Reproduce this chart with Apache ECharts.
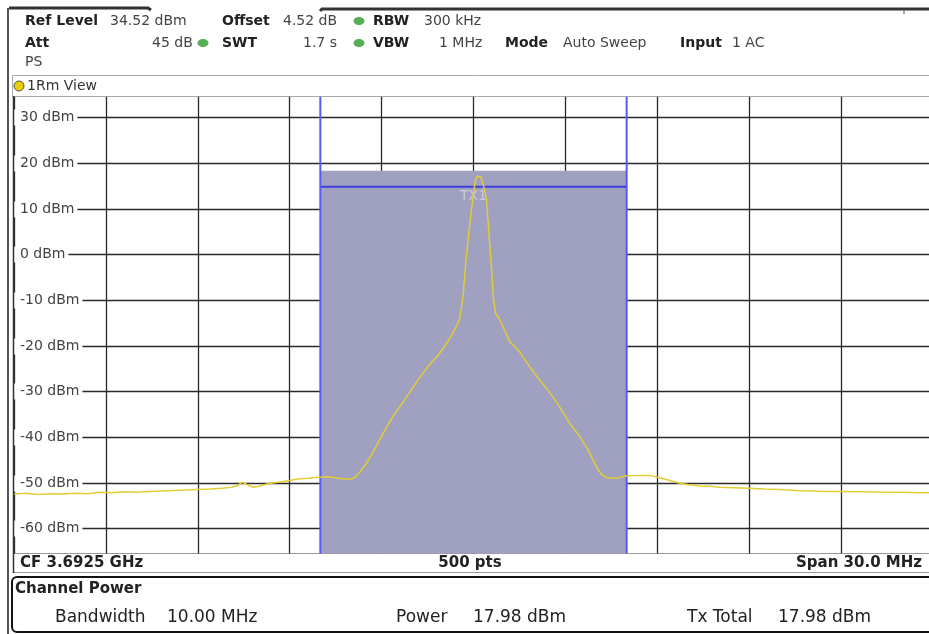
<!DOCTYPE html>
<html>
<head>
<meta charset="utf-8">
<script src="https://cdn.jsdelivr.net/npm/echarts@6/dist/echarts.min.js"></script>
<style>
html,body{margin:0;padding:0;background:#fff;overflow:hidden;width:929px;height:634px;}
#chart{width:945px;height:634px;}
</style>
</head>
<body>
<div id="chart"></div>
<script>
// ---- data ----
const freqMHz = [-15.0,-14.6,-14.2,-13.8,-13.4,-13.0,-12.6,-12.2,-11.8,-11.4,
  -11.0,-10.6,-10.2,-9.8,-9.4,-9.0,-8.6,-8.2,-7.9,-7.7,
  -7.55,-7.4,-7.2,-7.0,-6.75,-6.5,-6.25,-6.0,-5.75,-5.5,
  -5.25,-5.0,-4.75,-4.5,-4.25,-4.0,-3.85,-3.7,-3.5,-3.3,
  -3.05,-2.8,-2.6,-2.37,-2.1,-1.77,-1.45,-1.11,-0.85,-0.62,
  -0.46,-0.40,-0.33,-0.26,-0.15,-0.02,0.06,0.12,0.17,0.24,
  0.32,0.42,0.50,0.58,0.65,0.72,0.84,0.96,1.18,1.5,
  1.83,2.1,2.38,2.6,2.81,3.14,3.47,3.74,3.9,4.07,
  4.2,4.35,4.67,5.0,5.25,5.5,5.76,6.0,6.3,6.5,
  6.74,7.0,7.39,7.75,8.0,8.5,9.0,9.5,10.0,10.66,
  11.0,11.5,12.0,12.3,12.75,13.4,14.0,14.5,15.0];
const levelDbm = [-52.5,-52.3,-52.6,-52.4,-52.5,-52.3,-52.4,-52.1,-52.2,-52.0,
  -52.1,-51.9,-51.8,-51.7,-51.6,-51.5,-51.4,-51.2,-51.0,-50.6,
  -49.9,-50.4,-51.0,-50.8,-50.3,-50.0,-49.8,-49.5,-49.2,-49.1,
  -48.9,-48.8,-48.7,-48.9,-49.2,-49.2,-48.7,-47.6,-45.8,-43.6,
  -40.4,-37.4,-35.2,-33.0,-30.4,-27.1,-24.3,-21.7,-19.2,-16.6,
  -14.4,-12.0,-8.5,-2.3,5.0,12.3,16.2,17.1,17.2,17.0,
  15.2,12.3,5.0,-2.3,-9.6,-12.9,-14.1,-15.8,-19.1,-21.3,
  -24.6,-27.0,-29.3,-31.3,-33.4,-37.0,-39.9,-42.8,-45.0,-47.2,
  -48.3,-48.9,-49.0,-48.5,-48.4,-48.4,-48.4,-48.8,-49.3,-49.7,
  -50.1,-50.4,-50.7,-50.8,-51.0,-51.1,-51.2,-51.4,-51.5,-51.75,
  -51.8,-51.9,-51.9,-52.0,-52.0,-52.1,-52.1,-52.2,-52.2];
const yTickLevels = [30,20,10,0,-10,-20,-30,-40,-50,-60];
const yTickLabels = ['30 dBm','20 dBm','10 dBm','0 dBm','-10 dBm','-20 dBm','-30 dBm','-40 dBm','-50 dBm','-60 dBm'];
const refLevel = 34.52;
const bottomLevel = -65.48;
const spanHalfMHz = 15;
const divMHz = 3;
const channelLowMHz = -5;
const channelHighMHz = 5;
const channelTopDbm = 18.3;
const channelLineDbm = 14.8;
const txLabel = 'TX1';
const txLabelDbm = 12.6;

const traceData = freqMHz.map((f, i) => [f, levelDbm[i]]);
const gridData = yTickLevels.map((v, i) => [0, v, i]);

const FONT = '"DejaVu Sans"';
function T(x, y, text, font, extra) {
  return {type: 'text', x: x, y: y, z: 10, style: Object.assign({text: text, font: font, fill: '#222', verticalAlign: 'middle'}, extra || {})};
}
const N14 = '14px ' + FONT, B14 = 'bold 14px ' + FONT;
const graphics = [
  // frame decorations
  {type: 'polyline', shape: {points: [[9, 8], [148, 8], [151, 10]]}, style: {stroke: '#333', lineWidth: 3, fill: null}},
  {type: 'polyline', shape: {points: [[320, 11], [322, 9], [940, 9]]}, style: {stroke: '#333', lineWidth: 3, fill: null}},
  {type: 'line', shape: {x1: 904, y1: 9, x2: 904, y2: 14}, style: {stroke: '#555', lineWidth: 1}},
  {type: 'line', shape: {x1: 8, y1: 8, x2: 8, y2: 634}, style: {stroke: '#555', lineWidth: 2}},
  // view bar
  {type: 'rect', shape: {x: 12.5, y: 75.5, width: 930, height: 21}, style: {fill: '#fff', stroke: '#aaa', lineWidth: 1}},
  {type: 'circle', shape: {cx: 19, cy: 86, r: 5}, style: {fill: '#e8d000', stroke: '#555', lineWidth: 1}},
  T(27, 86, '1Rm View', N14, {fill: '#333'}),
  // header
  T(25, 21, 'Ref Level', B14), T(110, 21, '34.52 dBm', N14, {fill: '#444'}),
  T(222, 21, 'Offset', B14), T(283, 21, '4.52 dB', N14, {fill: '#444'}),
  {type: 'ellipse', shape: {cx: 359, cy: 21, rx: 5.5, ry: 4}, style: {fill: '#55b055'}},
  T(373, 21, 'RBW', B14), T(424, 21, '300 kHz', N14, {fill: '#444'}),
  T(25, 43, 'Att', B14), T(152, 43, '45 dB', N14, {fill: '#444'}),
  {type: 'ellipse', shape: {cx: 203, cy: 43, rx: 5.5, ry: 4}, style: {fill: '#55b055'}},
  T(222, 43, 'SWT', B14), T(303, 43, '1.7 s', N14, {fill: '#444'}),
  {type: 'ellipse', shape: {cx: 359, cy: 43, rx: 5.5, ry: 4}, style: {fill: '#55b055'}},
  T(373, 43, 'VBW', B14), T(439, 43, '1 MHz', N14, {fill: '#444'}),
  T(505, 43, 'Mode', B14), T(563, 43, 'Auto Sweep', N14, {fill: '#444'}),
  T(680, 43, 'Input', B14), T(732, 43, '1 AC', N14, {fill: '#444'}),
  T(25, 62, 'PS', N14, {fill: '#444'}),
  // plot left border
  {type: 'line', shape: {x1: 13.5, y1: 96, x2: 13.5, y2: 573}, style: {stroke: '#333', lineWidth: 1.5}, z: 9},
  // bottom bar
  {type: 'rect', shape: {x: 13.5, y: 553.5, width: 930, height: 19}, style: {fill: '#fff', stroke: '#999', lineWidth: 1}},
  T(20, 563, 'CF 3.6925 GHz', 'bold 15px ' + FONT),
  T(470, 563, '500 pts', 'bold 15px ' + FONT, {align: 'center'}),
  T(922, 563, 'Span 30.0 MHz', 'bold 15px ' + FONT, {align: 'right'}),
  // channel power box
  {type: 'rect', shape: {x: 12, y: 577, width: 930, height: 55, r: 5}, style: {fill: '#fff', stroke: '#111', lineWidth: 2}},
  T(15, 589, 'Channel Power', 'bold 15px ' + FONT),
  T(55, 618, 'Bandwidth', '17px ' + FONT), T(167, 618, '10.00 MHz', '17px ' + FONT),
  T(396, 618, 'Power', '17px ' + FONT), T(473, 618, '17.98 dBm', '17px ' + FONT),
  T(687, 618, 'Tx Total', '17px ' + FONT), T(778, 618, '17.98 dBm', '17px ' + FONT)
];

const chart = echarts.init(document.getElementById('chart'), null, {renderer: 'canvas'});
chart.setOption({
  animation: false,
  backgroundColor: '#fff',
  grid: {left: 14, top: 96.7, width: 919, height: 456.7, show: false},
  xAxis: {
    type: 'value', min: -spanHalfMHz, max: spanHalfMHz, interval: divMHz,
    axisLine: {show: false}, axisTick: {show: false}, axisLabel: {show: false},
    splitLine: {show: true, lineStyle: {color: '#2a2a2a', width: 1.3}}
  },
  yAxis: {
    type: 'value', min: bottomLevel, max: refLevel,
    axisLine: {show: false}, axisTick: {show: false}, axisLabel: {show: false},
    splitLine: {show: false}
  },
  graphic: graphics,
  series: [
    {
      type: 'custom', z: 1, silent: true,
      data: gridData,
      encode: {x: 0, y: 1},
      renderItem: function (params, api) {
        const cs = params.coordSys;
        const y = Math.round(api.coord([0, api.value(1)])[1]) + 0.5;
        return {
          type: 'group',
          children: [
            {type: 'line', shape: {x1: cs.x, y1: y, x2: cs.x + cs.width, y2: y}, style: {stroke: '#2a2a2a', lineWidth: 1.3}},
            {type: 'text', style: {text: yTickLabels[api.value(2)], x: cs.x, y: y, verticalAlign: 'middle',
              font: '14px ' + FONT, fill: '#444', backgroundColor: '#fff', padding: [1, 3, 1, 6]}}
          ]
        };
      }
    },
    {
      type: 'custom', z: 2, silent: true,
      data: [[channelLowMHz, channelHighMHz, channelTopDbm, channelLineDbm, txLabelDbm]],
      encode: {x: [0, 1], y: [2, 3]},
      renderItem: function (params, api) {
        const cs = params.coordSys;
        const pTL = api.coord([api.value(0), api.value(2)]);
        const pBR = api.coord([api.value(1), bottomLevel]);
        const yLine = api.coord([0, api.value(3)])[1];
        const pTx = api.coord([(api.value(0) + api.value(1)) / 2, api.value(4)]);
        return {
          type: 'group',
          children: [
            {type: 'rect', shape: {x: pTL[0], y: pTL[1], width: pBR[0] - pTL[0], height: pBR[1] - pTL[1]}, style: {fill: '#a0a0c0'}},
            {type: 'line', shape: {x1: pTL[0], y1: yLine, x2: pBR[0], y2: yLine}, style: {stroke: '#3c3ce0', lineWidth: 2}},
            {type: 'line', shape: {x1: pTL[0], y1: cs.y, x2: pTL[0], y2: cs.y + cs.height}, style: {stroke: '#5a5af2', lineWidth: 2}},
            {type: 'line', shape: {x1: pBR[0], y1: cs.y, x2: pBR[0], y2: cs.y + cs.height}, style: {stroke: '#5a5af2', lineWidth: 2}},
            {type: 'text', style: {text: txLabel, x: pTx[0], y: pTx[1], align: 'center', verticalAlign: 'middle', font: '14px ' + FONT, fill: '#cacadc'}}
          ]
        };
      }
    },
    {
      type: 'line', z: 3, data: traceData, showSymbol: false, symbol: 'none', smooth: false, silent: true,
      lineStyle: {color: '#e2cd35', width: 1.5}
    }
  ]
});
</script>
</body>
</html>
